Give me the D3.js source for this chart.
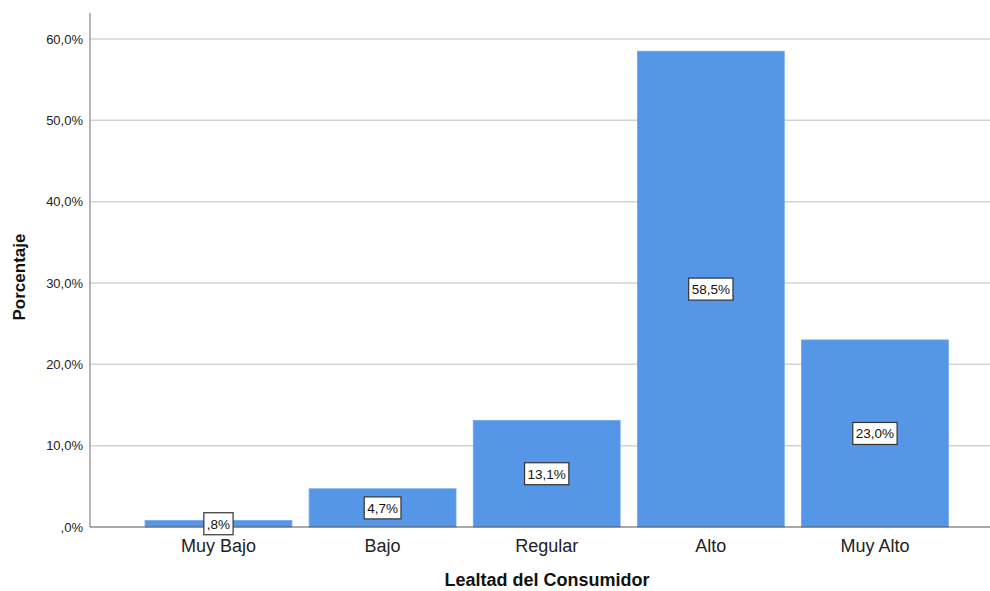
<!DOCTYPE html>
<html><head><meta charset="utf-8">
<script src="https://cdn.jsdelivr.net/npm/d3@7"></script>
<style>body{margin:0;background:#fff}svg{display:block;font-family:Arial,"Liberation Sans",sans-serif}</style>
</head><body>
<svg id="c" width="990" height="591"></svg>
<script>
const categories = ["Muy Bajo","Bajo","Regular","Alto","Muy Alto"];
const values = [0.8, 4.7, 13.1, 58.5, 23.0];
const labels = [",8%","4,7%","13,1%","58,5%","23,0%"];
const yTicks = [0,10,20,30,40,50,60];
const yTickLabels = [",0%","10,0%","20,0%","30,0%","40,0%","50,0%","60,0%"];

(function(){
const svg = d3.select("#c");
const mLeft = 90, mRight = 990, mTop = 13, mBottom = 527;
const y = d3.scaleLinear().domain([0,60]).range([mBottom,39]);
const x = d3.scaleBand().domain(categories).range([136.4,957]).paddingInner(0.105).paddingOuter(0.0525);

// gridlines
svg.append("g").selectAll("line").data(yTicks.filter(d=>d>0)).join("line")
  .attr("x1",mLeft).attr("x2",mRight).attr("y1",d=>y(d)).attr("y2",d=>y(d))
  .attr("stroke","#d4d4d4").attr("stroke-width",1.5);

// bars
svg.append("g").selectAll("rect").data(values).join("rect")
  .attr("x",(d,i)=>x(categories[i])).attr("width",x.bandwidth())
  .attr("y",d=>y(d)).attr("height",d=>mBottom-y(d))
  .attr("fill","#5596e6").attr("stroke","#6ea6ea").attr("stroke-width",0.8);

// y axis
const yAxis = d3.axisLeft(y).tickValues(yTicks).tickFormat((d,i)=>yTickLabels[i]).tickSize(0).tickPadding(7);
const gy = svg.append("g").attr("transform",`translate(${mLeft},0)`).call(yAxis);
gy.select(".domain").remove();
gy.selectAll("text").attr("font-size","13px").attr("fill","#222").attr("font-family","Arial,'Liberation Sans',sans-serif");
svg.append("line").attr("x1",mLeft).attr("x2",mLeft).attr("y1",mTop).attr("y2",mBottom)
  .attr("stroke","#a0a0a0").attr("stroke-width",1.5);

// x axis
const xAxis = d3.axisBottom(x).tickSize(0).tickPadding(12);
const gx = svg.append("g").attr("transform",`translate(0,${mBottom})`).call(xAxis);
gx.select(".domain").remove();
gx.selectAll("text").attr("font-size","18px").attr("fill","#222").attr("font-family","Arial,'Liberation Sans',sans-serif");
svg.append("line").attr("x1",mLeft).attr("x2",mRight).attr("y1",mBottom).attr("y2",mBottom)
  .attr("stroke","#555").attr("stroke-width",1.2);

// data labels
const lg = svg.append("g").selectAll("g").data(values).join("g")
  .attr("transform",(d,i)=>`translate(${x(categories[i])+x.bandwidth()/2},${y(d/2)})`);
lg.each(function(d,i){
  const g = d3.select(this);
  const t = g.append("text").text(labels[i]).attr("text-anchor","middle").attr("dy","0.36em")
    .attr("font-size","13.5px").attr("fill","#111");
  const w = t.node().getComputedTextLength();
  g.insert("rect","text").attr("x",-w/2-3).attr("y",-11).attr("width",w+6).attr("height",22)
    .attr("fill","#fff").attr("stroke","#333").attr("stroke-width",1.2);
});

// axis titles
svg.append("text").attr("x",547).attr("y",580).attr("dy","0.35em").attr("text-anchor","middle")
  .attr("font-size","18px").attr("font-weight","bold").attr("fill","#111").text("Lealtad del Consumidor");
svg.append("text").attr("transform","translate(25,277) rotate(-90)").attr("text-anchor","middle")
  .attr("font-size","17px").attr("font-weight","bold").attr("fill","#111").text("Porcentaje");
})();
</script>
</body></html>
